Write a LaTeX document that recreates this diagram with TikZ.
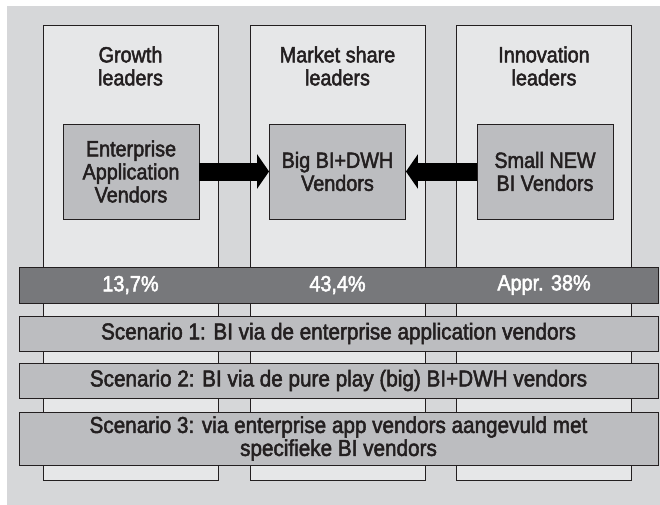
\documentclass[tikz,border=0pt]{standalone}
\usepackage{fontspec}
\setmainfont{Liberation Sans}[FakeStretch=0.9,FakeBold=2.2]
\usetikzlibrary{arrows.meta}
\definecolor{bgray}{HTML}{D6D7D9}
\definecolor{colfill}{HTML}{E6E7E8}
\definecolor{boxfill}{HTML}{BCBDC0}
\definecolor{barfill}{HTML}{77787B}
\definecolor{ink}{HTML}{231F20}
\begin{document}
\begin{tikzpicture}[x=1pt,y=-1pt,
  every node/.style={font=\fontsize{22}{23}\selectfont, text=ink, inner sep=0pt, align=center},
  column/.style={draw=ink, line width=0.9pt, fill=colfill, minimum width=175pt, minimum height=455pt},
  vendor/.style={draw=ink, line width=0.9pt, fill=boxfill, minimum width=136pt, minimum height=95pt},
  band/.style={draw=ink, line width=0.9pt, fill=boxfill, minimum width=639pt, font=\fontsize{23}{23}\selectfont},
  sharebar/.style={draw=ink, line width=0.9pt, fill=barfill, minimum width=639pt, minimum height=36pt},
  bigarrow/.style={draw=black, line width=18pt, -{Triangle[length=12pt,width=34pt]}}
]
\useasboundingbox[fill=white] (0,0) rectangle (660,505);
\fill[bgray] (7,6) rectangle (660,505);

% three market segments
\node[column] (c1) at (130.5,252.5) {};
\node[column] (c2) at (337.5,252.5) {};
\node[column] (c3) at (544,252.5) {};

\node (h1) at (130.5,66) {Growth\\leaders};
\node (h2) at (337.5,66) {Market share\\leaders};
\node (h3) at (544,66) {Innovation\\leaders};

% vendor groups
\node[vendor] (v1) at (131,171.5) {Enterprise\\Application\\Vendors};
\node[vendor] (v2) at (337.5,171.5) {Big BI+DWH\\Vendors};
\node[vendor] (v3) at (545,171.5) {Small NEW\\BI Vendors};

\draw[bigarrow] (v1.east) -- (v2.west);
\draw[bigarrow] (v3.west) -- (v2.east);

% market share bar
\node[sharebar] (bar) at (338.5,285) {};
\node[text=white] (p1) at (130.5,285) {13,7\%};
\node[text=white] (p2) at (337.5,285) {43,4\%};
\node[text=white] (p3) at (544,285) {Appr. 38\%};

% scenarios
\node[band, minimum height=35pt] (s1) at (338.5,333.5) {Scenario 1: BI via de enterprise application vendors};
\node[band, minimum height=35pt] (s2) at (338.5,380.5) {Scenario 2: BI via de pure play (big) BI+DWH vendors};
\node[band, minimum height=53pt] (s3) at (338.5,438.5) {Scenario 3: via enterprise app vendors aangevuld met\\specifieke BI vendors};
\end{tikzpicture}
\end{document}
